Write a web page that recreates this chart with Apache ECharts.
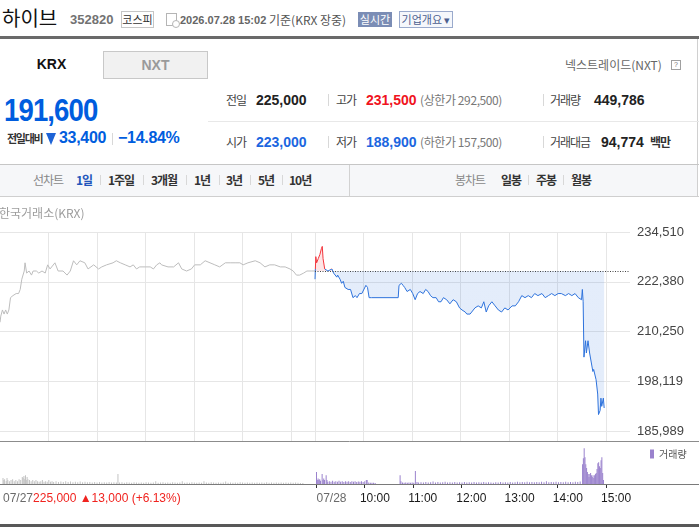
<!DOCTYPE html>
<html><head><meta charset="utf-8">
<script src="https://cdn.jsdelivr.net/npm/echarts@6/dist/echarts.min.js"></script>
<style>
html,body{margin:0;padding:0;background:#fff;width:699px;height:527px;overflow:hidden;}
body{position:relative;font-family:"Liberation Sans","Noto Sans CJK KR",sans-serif;color:#333;}
.a{position:absolute;white-space:nowrap;}
.k{font-family:"Noto Sans CJK KR",sans-serif;}
.lab{font-size:12px;line-height:16px;color:#444;letter-spacing:-1px;}
.num{font-weight:bold;font-size:14px;line-height:16px;color:#222;}
.sub{font-size:12px;line-height:16px;color:#777;letter-spacing:-0.4px;}
.sep{position:absolute;width:1px;background:#d8d8d8;}
.tb{font-size:12px;line-height:16px;font-weight:bold;color:#333;letter-spacing:-1px;}
.tbg{font-size:12px;line-height:16px;color:#888;letter-spacing:-1px;}
#chart{position:absolute;left:0;top:197px;width:699px;height:327px;}
</style></head><body>
<!-- header -->
<div class="a k" style="left:2px;top:6px;font-size:20px;line-height:24px;color:#111;">하이브</div>
<div class="a" style="left:70px;top:12px;font-size:13px;line-height:16px;font-weight:bold;color:#727272;">352820</div>
<div class="a k" style="left:121px;top:11px;width:31px;height:15px;border:1px solid #c6c6c6;font-size:11px;line-height:15px;text-align:center;color:#333;">코스피</div>
<div class="a" style="left:166px;top:13px;width:9px;height:11px;border:1px solid #b5b5b5;"></div>
<div class="a" style="left:172px;top:20px;width:6px;height:6px;border:1px solid #b5b5b5;border-radius:50%;background:#fff;"></div>
<div class="a" style="left:180px;top:12px;font-size:11px;line-height:16px;font-weight:bold;color:#666;">2026.07.28 15:02</div>
<div class="a k" style="left:269px;top:11px;font-size:12px;line-height:17px;color:#555;">기준(KRX 장중)</div>
<div class="a k" style="left:358px;top:12px;width:34px;height:15px;background:#7b8db5;color:#fff;font-size:11px;line-height:15px;text-align:center;">실시간</div>
<div class="a k" style="left:399px;top:11px;width:52px;height:15px;border:1px solid #9aaacc;background:#f5f7fb;color:#4d5f8f;font-size:11px;line-height:15px;text-align:center;">기업개요 ▾</div>
<div class="a" style="left:0;top:36px;width:699px;height:3px;background:#6a6a6a;"></div>
<div class="a" style="left:697px;top:39px;width:1px;height:158px;background:#d0d0d0;"></div>
<!-- tabs -->
<div class="a" style="left:0;top:51px;width:103px;height:27px;font-size:14px;line-height:27px;font-weight:bold;text-align:center;color:#111;">KRX</div>
<div class="a" style="left:103px;top:51px;width:103px;height:26px;border:1px solid #c8c8c8;background:#f1f1f1;font-size:14px;line-height:26px;font-weight:bold;text-align:center;color:#9a9a9a;">NXT</div>
<div class="a k" style="left:565px;top:57px;font-size:12px;line-height:16px;color:#666;">넥스트레이드(NXT)</div>
<div class="a" style="left:671px;top:60px;width:8px;height:8px;border:1px solid #a0a0a0;font-size:7px;line-height:8px;text-align:center;color:#777;">?</div>
<!-- price -->
<div class="a" style="left:4px;top:94px;font-size:32px;line-height:32px;font-weight:bold;color:#005dde;letter-spacing:-1px;transform:scaleX(0.86);transform-origin:0 0;">191,600</div>
<div class="a k" style="left:7px;top:131px;font-size:11px;line-height:14px;font-weight:bold;color:#333;letter-spacing:-1.3px;">전일대비</div>
<div class="a" style="left:46px;top:133px;width:0;height:0;border-left:5.5px solid transparent;border-right:5.5px solid transparent;border-top:12px solid #1d63d6;"></div>
<div class="a" style="left:59px;top:129px;font-size:16px;line-height:18px;font-weight:bold;color:#005dde;letter-spacing:-0.3px;">33,400</div>
<div class="sep" style="left:112px;top:133px;height:12px;"></div>
<div class="a" style="left:118px;top:129px;font-size:16px;line-height:18px;font-weight:bold;color:#005dde;letter-spacing:-0.3px;">−14.84%</div>
<!-- info rows -->
<div class="a k lab" style="left:226px;top:92px;">전일</div>
<div class="a num" style="left:256px;top:92px;">225,000</div>
<div class="sep" style="left:328px;top:94px;height:12px;"></div>
<div class="a k lab" style="left:336px;top:92px;">고가</div>
<div class="a num" style="left:366px;top:92px;color:#f0141e;">231,500</div>
<div class="a k sub" style="left:420px;top:92px;">(상한가 292,500)</div>
<div class="sep" style="left:543px;top:94px;height:12px;"></div>
<div class="a k lab" style="left:550px;top:92px;">거래량</div>
<div class="a num" style="left:594px;top:92px;">449,786</div>
<div class="a" style="left:208px;top:121px;width:491px;height:1px;background:#e8e8e8;"></div>
<div class="a k lab" style="left:226px;top:134px;">시가</div>
<div class="a num" style="left:256px;top:134px;color:#1b66e0;">223,000</div>
<div class="sep" style="left:328px;top:136px;height:12px;"></div>
<div class="a k lab" style="left:336px;top:134px;">저가</div>
<div class="a num" style="left:366px;top:134px;color:#1b66e0;">188,900</div>
<div class="a k sub" style="left:420px;top:134px;">(하한가 157,500)</div>
<div class="sep" style="left:543px;top:136px;height:12px;"></div>
<div class="a k lab" style="left:550px;top:134px;">거래대금</div>
<div class="a num" style="left:601px;top:134px;">94,774</div>
<div class="a k" style="left:650px;top:134px;font-size:12px;line-height:16px;font-weight:bold;color:#333;letter-spacing:-1px;">백만</div>
<!-- toolbar -->
<div class="a" style="left:0;top:164px;width:699px;height:1px;background:#c6c6c6;"></div>
<div class="a" style="left:0;top:165px;width:697px;height:31px;background:#f6f7f9;"></div>
<div class="a" style="left:0;top:196px;width:699px;height:1px;background:#cfcfcf;"></div>
<div class="a" style="left:349px;top:165px;width:1px;height:31px;background:#d2d2d2;"></div>
<div class="a k tbg" style="left:33px;top:172px;">선차트</div>
<div class="a k tb" style="left:76px;top:172px;color:#2255bb;">1일</div>
<div class="sep" style="left:100px;top:175px;height:10px;"></div>
<div class="a k tb" style="left:108px;top:172px;">1주일</div>
<div class="sep" style="left:143px;top:175px;height:10px;"></div>
<div class="a k tb" style="left:151px;top:172px;">3개월</div>
<div class="sep" style="left:186px;top:175px;height:10px;"></div>
<div class="a k tb" style="left:194px;top:172px;">1년</div>
<div class="sep" style="left:219px;top:175px;height:10px;"></div>
<div class="a k tb" style="left:226px;top:172px;">3년</div>
<div class="sep" style="left:250px;top:175px;height:10px;"></div>
<div class="a k tb" style="left:258px;top:172px;">5년</div>
<div class="sep" style="left:282px;top:175px;height:10px;"></div>
<div class="a k tb" style="left:289px;top:172px;">10년</div>
<div class="a k tbg" style="left:455px;top:172px;">봉차트</div>
<div class="a k tb" style="left:501px;top:172px;">일봉</div>
<div class="sep" style="left:528px;top:175px;height:10px;"></div>
<div class="a k tb" style="left:536px;top:172px;">주봉</div>
<div class="sep" style="left:563px;top:175px;height:10px;"></div>
<div class="a k tb" style="left:571px;top:172px;">월봉</div>
<div id="chart"></div>
<div class="a" style="left:0;top:524px;width:699px;height:3px;background:#585858;"></div>
<script>
// ---------- data ----------
const dayNames = ['07/27', '07/28'];
const sessionMinutes = 390;               // 09:00 - 15:30
const hourLabels = ['10:00', '11:00', '12:00', '13:00', '14:00', '15:00'];
const prevDaySummary = '225,000 ▲13,000 (+6.13%)';
const prevClose = 225000;
const priceTicks = [185989, 198119, 210250, 222380, 234510];
const volumeMax = 19500;

// [minutes after 09:00, price]
const day1Price = [[0,212500],[1,214000],[3,215500],[5,214500],[7,215500],[9,214500],[11,215500],[13,218500],[16,219000],[20,219500],[23,219500],[25,220500],[27,223000],[30,225000],[31,227000],[33,224500],[36,225000],[39,224000],[41,225000],[45,225000],[48,224500],[52,225000],[56,224500],[59,226500],[62,225500],[68,227000],[72,225000],[78,225000],[83,224000],[87,225000],[91,227500],[95,226500],[99,227500],[105,227000],[109,225500],[116,226500],[122,225500],[126,226000],[132,226500],[140,227000],[144,227500],[149,227000],[155,226500],[161,226000],[165,226500],[169,225500],[173,226000],[180,226000],[186,226000],[190,225500],[194,226500],[198,227000],[200,226500],[208,226000],[215,226000],[221,227000],[225,225500],[231,225000],[237,225500],[241,226500],[248,226500],[254,227500],[260,227000],[266,226500],[272,226000],[279,227000],[285,227000],[291,227000],[297,227000],[301,226500],[307,227000],[316,227500],[322,227000],[328,226000],[334,226500],[340,226500],[347,226000],[353,226000],[359,225500],[363,225000],[367,224000],[371,224000],[376,224500],[380,225000],[386,225000],[390,225000]];
const day2Price = [[0,223000],[1,228500],[2,227000],[4,228000],[6,229000],[8,230500],[9,231000],[10,228000],[12,225500],[16,225000],[21,225500],[23,224500],[27,223500],[28,224000],[31,223000],[33,222000],[35,222500],[37,221000],[41,220500],[44,220500],[47,218500],[50,219000],[52,218500],[55,219500],[58,219500],[60,219500],[63,221500],[65,221000],[67,218500],[70,218500],[72,218500],[103,218500],[104,221500],[107,222000],[109,221500],[111,221000],[114,220000],[118,220500],[121,219500],[124,218000],[127,219500],[130,220000],[134,219500],[137,220500],[140,220000],[143,219000],[146,218500],[150,218500],[153,217500],[156,217500],[159,218500],[163,218000],[167,217000],[171,218000],[175,217500],[179,216000],[182,215500],[186,215000],[188,214500],[192,214500],[194,215000],[198,216000],[202,216500],[206,216000],[209,217500],[212,215000],[215,216500],[219,217500],[223,216500],[227,215500],[231,215000],[235,216000],[239,215500],[244,216500],[248,216500],[252,217500],[256,219000],[260,218500],[264,219000],[268,218500],[272,219500],[276,219000],[281,219500],[285,218500],[289,219000],[293,219500],[297,219000],[301,219500],[305,219500],[310,219000],[314,219500],[318,219000],[322,219500],[326,218500],[330,218000],[331,220500],[332,217500],[333,204000],[335,208000],[336,205000],[338,208000],[340,205000],[344,200500],[345,201000],[348,198500],[350,195000],[351,190000],[353,191000],[354,194000],[355,192000],[357,194000],[358,191600]];

// [minutes after 09:00, shares]
const day1Volume = [[0,2700],[1,1800],[2,2200],[4,1400],[5,2700],[6,1800],[8,1300],[10,1800],[12,2200],[14,1300],[16,1800],[18,1300],[20,2200],[22,1800],[24,3200],[25,2700],[26,3600],[27,2200],[28,4000],[29,1800],[30,3200],[31,2200],[33,1800],[35,1300],[37,1800],[39,1300],[41,1800],[43,1300],[45,1000],[47,1300],[49,1800],[51,1000],[53,1300],[55,1000],[57,1800],[59,1000],[61,1300],[63,900],[66,1300],[69,900],[72,1100],[75,900],[78,1300],[81,900],[84,1100],[87,800],[90,1000],[93,800],[96,1100],[99,800],[102,1000],[105,800],[108,900],[111,700],[114,900],[117,700],[120,900],[123,700],[126,800],[129,700],[132,900],[135,700],[138,800],[141,700],[143,4500],[145,700],[148,800],[151,600],[154,800],[157,700],[160,600],[163,800],[166,700],[169,600],[172,700],[175,600],[178,800],[181,700],[184,600],[187,700],[190,1300],[193,600],[196,700],[199,800],[202,600],[205,700],[208,600],[211,800],[214,700],[217,600],[220,700],[223,1300],[226,600],[229,700],[232,600],[235,800],[238,700],[241,600],[244,700],[247,600],[250,1300],[253,700],[256,600],[259,800],[262,700],[265,600],[268,700],[271,600],[274,700],[277,1100],[280,600],[283,700],[286,600],[289,700],[292,600],[295,800],[298,700],[301,600],[304,700],[307,600],[310,700],[313,600],[316,700],[319,600],[322,700],[325,600],[328,800],[331,600],[334,700],[337,600],[340,700],[343,600],[346,700],[349,600],[352,700],[355,600],[358,700],[361,600],[364,700],[367,600],[370,500],[373,500]];
const day2Volume = [[0,5400],[1,1800],[2,2500],[3,1800],[4,2100],[5,1500],[7,4500],[8,1800],[9,2500],[10,1800],[12,4000],[13,1800],[14,1000],[16,1300],[18,1000],[20,1500],[22,1000],[24,1200],[26,1000],[28,1500],[30,1000],[32,1200],[34,900],[36,1300],[38,1000],[40,1200],[42,900],[44,1300],[46,1000],[48,1200],[50,900],[52,1100],[54,1000],[56,1200],[58,900],[60,1300],[62,1800],[63,1800],[65,700],[67,600],[69,600],[71,600],[73,500],[104,4000],[105,1300],[107,700],[109,600],[111,700],[113,600],[115,700],[117,600],[119,700],[121,600],[123,5850],[125,900],[127,700],[130,800],[133,700],[136,900],[139,700],[142,800],[145,1100],[148,700],[151,900],[154,700],[157,800],[160,1000],[163,700],[166,800],[169,700],[172,900],[175,700],[178,800],[181,700],[184,900],[187,700],[190,800],[193,700],[196,900],[199,700],[202,800],[205,700],[208,900],[211,700],[214,800],[217,700],[220,600],[223,800],[226,700],[229,900],[232,700],[235,800],[238,700],[241,900],[244,700],[247,800],[250,1000],[253,800],[256,900],[259,800],[262,1000],[265,800],[268,900],[271,800],[274,900],[277,800],[280,1000],[283,800],[286,1300],[289,800],[292,900],[295,800],[298,1000],[301,800],[304,900],[307,800],[310,1000],[313,800],[316,900],[319,800],[322,1000],[325,900],[328,1100],[331,9000],[332,11700],[333,16200],[334,12150],[335,9000],[336,7200],[337,5400],[338,4500],[339,3150],[340,4500],[341,4950],[342,4000],[343,3150],[344,4000],[345,2700],[346,4000],[347,4500],[348,5000],[349,6750],[350,9450],[351,9900],[352,8000],[353,7200],[354,10800],[355,12150],[356,4950],[357,1800]];

// ---------- build ----------
const pad = n => (n < 10 ? '0' : '') + n;
const categories = [];
dayNames.forEach((d, di) => {
  const len = di === dayNames.length - 1 ? sessionMinutes + 1 : sessionMinutes;
  for (let m = 0; m < len; m++) categories.push(d + ' ' + pad(9 + Math.floor(m / 60)) + ':' + pad(m % 60));
});
const hourOffset = h => (parseInt(h, 10) - 9) * 60;
const day2Start = sessionMinutes;
const day2Hours = hourLabels.map(h => day2Start + hourOffset(h));
const splitSet = new Set([...hourLabels.map(hourOffset), day2Start, ...day2Hours]);
const tickSet = new Set([day2Start, ...day2Hours]);
const labelShift = 6;   // hour labels start a little left of their tick
const labelMap = new Map();
labelMap.set(0, '{g|' + dayNames[0] + '}{r|' + prevDaySummary + '}');
labelMap.set(day2Start, '{g|' + dayNames[1] + '}');
hourLabels.forEach((h, i) => labelMap.set(day2Hours[i] - labelShift, '{t|' + h + '}'));

const base = priceTicks[0];
const span = priceTicks[priceTicks.length - 1] - base;
const refY = prevClose - base;

// up/down colouring: sharp gradient split at the previous close, relative to the day-2 shape's extent
const d2Values = day2Price.map(d => d[1]);
const d2Max = Math.max(prevClose, ...d2Values), d2Min = Math.min(prevClose, ...d2Values);
const cut = (d2Max - prevClose) / (d2Max - d2Min);
const UP = '#f3343c', DOWN = '#2d72dc';
const splitGrad = () => new echarts.graphic.LinearGradient(0, 0, 0, 1, [
  {offset: 0, color: UP}, {offset: cut, color: UP}, {offset: cut, color: DOWN}, {offset: 1, color: DOWN}]);

const chart = echarts.init(document.getElementById('chart'), null, {renderer: 'canvas'});
const catAxis = (gi, extra) => Object.assign({
  gridIndex: gi, type: 'category', data: categories, boundaryGap: false,
  axisLine: {show: false}, axisTick: {show: false}, axisLabel: {show: false},
  splitLine: {show: true, interval: i => splitSet.has(i), lineStyle: {color: '#e6e6e6', width: 1}}
}, extra || {});
const labFont = {fontSize: 12, fontFamily: 'Liberation Sans'};

chart.setOption({
  animation: false,
  textStyle: {fontFamily: 'Liberation Sans, Noto Sans CJK KR'},
  title: {text: '한국거래소(KRX)', left: -1, top: 10, padding: 0,
    textStyle: {fontSize: 12, fontWeight: 'normal', color: '#9d9d9d', fontFamily: 'Noto Sans CJK KR'}},
  legend: {data: ['거래량'], left: 650, top: 252, padding: 0, icon: 'rect', itemWidth: 4, itemHeight: 9,
    textStyle: {fontSize: 10, color: '#555', fontFamily: 'Noto Sans CJK KR'}, selectedMode: false},
  grid: [
    {left: 0, right: 69, top: 35, height: 199},
    {left: 0, right: 69, top: 234, height: 10},
    {left: 0, right: 69, top: 244, height: 43}
  ],
  xAxis: [
    catAxis(0),
    catAxis(1),
    catAxis(2, {axisLine: {show: true, lineStyle: {color: '#777'}},
      axisTick: {show: true, interval: i => tickSet.has(i), length: 4, lineStyle: {color: '#333'}},
      splitLine: {show: false}}),
    catAxis(2, {position: 'bottom', splitLine: {show: false},
      axisLabel: {show: true, interval: i => labelMap.has(i), formatter: (v, i) => labelMap.get(i) || '',
        align: 'left', margin: 9, color: '#222', fontSize: 12, fontFamily: 'Liberation Sans',
        rich: {g: Object.assign({color: '#6a6a6a'}, labFont), r: Object.assign({color: '#f0231f'}, labFont), t: Object.assign({color: '#1a1a1a'}, labFont)}}})
  ],
  yAxis: [
    {gridIndex: 0, type: 'value', position: 'right', min: 0, max: span, interval: span / 4,
      axisLine: {show: false}, axisTick: {show: false},
      splitLine: {show: true, lineStyle: {color: '#e6e6e6'}},
      axisLabel: {margin: 7, fontSize: 13, color: '#444', fontFamily: 'Liberation Sans',
        formatter: v => Math.round(v + base).toLocaleString('en-US')}},
    {gridIndex: 1, type: 'value', min: 0, max: 1, show: false},
    {gridIndex: 2, type: 'value', min: 0, max: volumeMax, show: false}
  ],
  series: [
    {type: 'line', xAxisIndex: 0, yAxisIndex: 0, showSymbol: false, symbol: 'none', silent: true,
      data: day1Price.map(([m, p]) => [m, p - base]), lineStyle: {color: '#bdbdbd', width: 1}, itemStyle: {color: '#bdbdbd'}},
    {type: 'line', xAxisIndex: 0, yAxisIndex: 0, showSymbol: false, symbol: 'none', silent: true,
      data: day2Price.map(([m, p]) => [m + day2Start, p - base]),
      lineStyle: {width: 1, color: splitGrad()}, itemStyle: {color: DOWN},
      areaStyle: {origin: refY, opacity: 0.13, color: splitGrad()},
      markLine: {silent: true, symbol: ['none', 'none'], label: {show: false},
        lineStyle: {type: [1, 1.5], color: '#444', width: 1},
        data: [[{coord: [day2Start, refY]}, {coord: [categories.length - 1, refY]}]]}},
    {type: 'bar', xAxisIndex: 2, yAxisIndex: 2, silent: true, barWidth: 1, barGap: '-100%',
      data: day1Volume.map(([m, v]) => [m, v]), itemStyle: {color: '#c3c3c3'}},
    {type: 'bar', name: '거래량', xAxisIndex: 2, yAxisIndex: 2, silent: true, barWidth: 1, barGap: '-100%',
      data: day2Volume.map(([m, v]) => [m + day2Start, v]), itemStyle: {color: '#9a82cd'}}
  ],
  graphic: [
    {type: 'line', silent: true, z: 100, shape: {x1: 0, y1: 244.5, x2: 699, y2: 244.5}, style: {stroke: '#8c8c8c', lineWidth: 1}},
    {type: 'line', silent: true, z: 100, shape: {x1: 0, y1: 287.5, x2: 699, y2: 287.5}, style: {stroke: '#7a7a7a', lineWidth: 1}}
  ]
});
</script>
</body></html>
